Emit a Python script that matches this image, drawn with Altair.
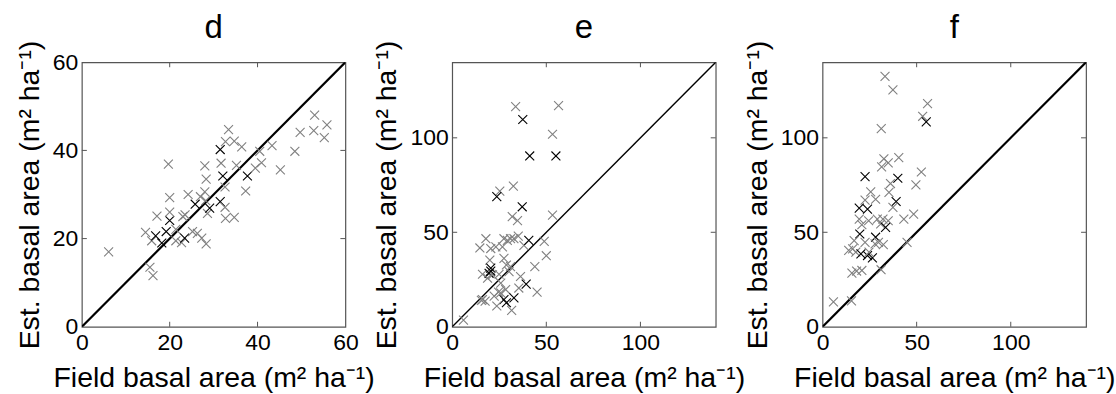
import altair as alt
import pandas as pd

# ---------------- data ----------------
d_field = [6.1, 15.5, 16.2, 14.5, 15.9, 17.1, 16.8, 18.2, 19.2, 20.0, 20.0, 20.0, 19.7, 21.4, 21.4, 22.7,
           23.4, 23.5, 23.0, 24.2, 25.2, 26.3, 25.8, 27.0, 28.0, 28.3, 28.0, 27.3, 28.3, 28.6, 29.1, 28.2,
           31.5, 31.7, 32.1, 31.5, 32.6, 32.7, 32.6, 33.4, 32.7, 34.7, 34.7, 35.2, 36.4, 37.7, 37.3, 39.5,
           40.5, 40.9, 43.3, 45.2, 48.5, 49.7, 53.0, 52.8, 55.2, 55.8]
d_est = [17.0, 13.5, 11.6, 21.4, 19.5, 25.1, 20.6, 19.0, 21.6, 24.1, 26.0, 29.3, 36.9, 22.1, 19.5, 19.1,
         20.1, 25.4, 25.0, 30.0, 21.6, 21.2, 27.8, 29.5, 30.6, 33.5, 36.5, 20.1, 18.8, 25.7, 26.9, 28.6,
         40.2, 37.1, 34.2, 28.4, 27.1, 24.6, 31.7, 44.7, 42.0, 42.1, 24.8, 36.6, 40.8, 34.2, 30.8, 36.0,
         39.8, 37.2, 41.1, 35.6, 39.8, 44.1, 48.0, 44.5, 42.9, 45.8]
d_tone = ["g", "g", "g", "g", "g", "g", "k", "k", "k", "k", "g", "g", "g", "g", "g", "g",
          "k", "g", "g", "g", "g", "g", "k", "g", "g", "g", "g", "g", "g", "g", "k", "g",
          "k", "g", "k", "k", "g", "g", "g", "g", "g", "g", "g", "g", "g", "k", "g", "g",
          "g", "g", "g", "g", "g", "g", "g", "g", "g", "g"]

e_field = [33.7, 56.5, 37.5, 53.3, 41.2, 55.1, 32.5, 25.3, 23.7, 37.2, 53.3, 31.9, 34.7, 17.9, 14.7, 20.5,
           23.2, 27.5, 31.0, 35.1, 32.8, 29.3, 26.7, 38.1, 40.7, 48.9, 50.0, 20.0, 27.5, 28.8, 20.5, 16.1,
           19.6, 21.4, 18.8, 24.9, 30.2, 31.0, 43.9, 25.8, 28.4, 36.3, 39.3, 35.4, 45.1, 24.6, 16.1, 17.5,
           22.3, 25.8, 27.5, 32.8, 23.7, 28.8, 31.6, 6.0, 20.5, 15.5]
e_est = [116.5, 117.0, 109.7, 101.9, 90.4, 90.4, 74.4, 71.8, 68.9, 63.5, 59.1, 58.3, 56.2, 46.6, 41.7, 41.4,
         42.3, 46.6, 46.6, 48.0, 46.6, 45.7, 42.3, 43.1, 45.7, 45.2, 37.6, 35.3, 36.2, 32.7, 31.0, 27.8,
         28.3, 27.5, 25.7, 27.8, 29.2, 31.8, 31.8, 23.1, 19.7, 26.6, 22.6, 20.5, 18.3, 18.3, 14.4, 13.6,
         16.2, 17.9, 14.4, 15.3, 11.0, 12.7, 8.7, 3.5, 29.5, 14.0]
e_tone = ["g", "g", "k", "g", "k", "k", "g", "g", "k", "k", "g", "g", "g", "g", "g", "g",
          "g", "g", "g", "g", "g", "g", "g", "g", "k", "g", "g", "g", "g", "g", "k", "g",
          "k", "g", "g", "g", "g", "g", "g", "g", "g", "g", "k", "g", "g", "g", "g", "g",
          "g", "g", "k", "k", "g", "k", "g", "g", "k", "g"]

f_field = [33.2, 37.4, 55.8, 53.2, 55.1, 31.2, 32.6, 34.9, 31.4, 40.5, 22.6, 52.5, 40.0, 36.1, 49.6, 35.3,
           25.6, 22.6, 28.2, 23.9, 19.5, 39.1, 37.4, 19.5, 24.5, 29.1, 32.1, 34.9, 30.9, 33.5, 43.2, 48.4,
           20.9, 19.8, 16.8, 28.2, 29.7, 32.3, 22.6, 44.9, 16.0, 13.9, 17.7, 20.4, 23.9, 26.5, 24.7, 27.9,
           15.6, 18.1, 20.9, 31.1, 5.8, 15.4]
f_est = [132.5, 125.4, 118.1, 111.4, 108.4, 104.9, 88.9, 86.7, 84.6, 89.5, 79.5, 81.9, 78.6, 75.8, 75.1, 71.1,
         71.4, 67.0, 67.5, 62.3, 62.8, 66.3, 63.2, 57.0, 56.1, 57.0, 57.0, 56.1, 54.4, 52.6, 57.0, 59.6,
         54.0, 49.1, 45.6, 47.4, 44.7, 43.5, 44.7, 44.7, 41.2, 40.4, 39.5, 38.6, 37.7, 36.5, 39.5, 43.9,
         28.4, 29.5, 29.8, 30.2, 13.2, 13.7]
f_tone = ["g", "g", "g", "g", "k", "g", "g", "g", "g", "g", "k", "g", "k", "g", "g", "g",
          "g", "g", "g", "k", "k", "k", "g", "g", "g", "g", "g", "g", "g", "k", "g", "g",
          "g", "k", "g", "k", "g", "g", "g", "g", "g", "g", "g", "k", "k", "k", "g", "g",
          "g", "g", "g", "g", "g", "g"]

panel_titles = ["d", "e", "f"]
panel_max = [60, 140, 140]
panel_ticks = [[0, 20, 40, 60], [0, 50, 100], [0, 50, 100]]
panel_line_width = [2.2, 1.4, 2.2]

x_title = "Field basal area (m² ha⁻¹)"
y_title = "Est. basal area (m² ha⁻¹)"

FONT = "Liberation Sans"
W, H = 264, 265
TICK = 5
FRAME = "#555555"


def make_panel(title, field, est, tone, vmax, ticks, lw):
    pts = pd.DataFrame({"x": field, "y": est, "tone": tone})
    diag = pd.DataFrame({"x": [0, vmax], "y": [0, vmax]})
    inner = [t for t in ticks if 0 < t < vmax]
    tdf_x = pd.DataFrame({"x": inner})
    tdf_y = pd.DataFrame({"y": inner})

    xscale = alt.Scale(domain=[0, vmax], nice=False, zero=False)
    yscale = alt.Scale(domain=[0, vmax], nice=False, zero=False)
    xaxis = alt.Axis(values=ticks, ticks=False, domain=False, grid=False, labelFont=FONT,
                     labelFontSize=23, labelColor="black", labelPadding=5, title=x_title,
                     titleFont=FONT, titleFontSize=28.5, titleFontWeight="normal",
                     titleColor="black", titlePadding=9, labelFlush=False)
    yaxis = alt.Axis(values=ticks, ticks=False, domain=False, grid=False, labelFont=FONT,
                     labelFontSize=23, labelColor="black", labelPadding=4, title=y_title,
                     titleFont=FONT, titleFontSize=28.5, titleFontWeight="normal",
                     titleColor="black", titlePadding=8, labelFlush=False)

    X = alt.X("x:Q", scale=xscale, axis=xaxis)
    Y = alt.Y("y:Q", scale=yscale, axis=yaxis)

    line = alt.Chart(diag).mark_line(color="black", strokeWidth=lw, clip=True).encode(x=X, y=Y)
    points = alt.Chart(pts).mark_point(
        shape="M-1,-1L1,1M-1,1L1,-1", filled=False, size=80, strokeWidth=1.1, opacity=1
    ).encode(
        x=X, y=Y,
        color=alt.Color("tone:N", scale=alt.Scale(domain=["g", "k"], range=["#808080", "#000000"]),
                        legend=None),
    )
    tb = alt.Chart(tdf_x).mark_rule(color=FRAME, strokeWidth=1).encode(
        x=X, y=alt.value(H), y2=alt.value(H - TICK))
    tt = alt.Chart(tdf_x).mark_rule(color=FRAME, strokeWidth=1).encode(
        x=X, y=alt.value(0), y2=alt.value(TICK))
    tl = alt.Chart(tdf_y).mark_rule(color=FRAME, strokeWidth=1).encode(
        y=Y, x=alt.value(0), x2=alt.value(TICK))
    tr = alt.Chart(tdf_y).mark_rule(color=FRAME, strokeWidth=1).encode(
        y=Y, x=alt.value(W - TICK), x2=alt.value(W))

    return alt.layer(tb, tt, tl, tr, line, points).properties(
        width=W, height=H,
        title=alt.TitleParams(title, fontSize=33, fontWeight="normal", font=FONT,
                              color="black", anchor="middle", offset=-5),
    )


panels = []
data_sets = [(d_field, d_est, d_tone), (e_field, e_est, e_tone), (f_field, f_est, f_tone)]
for i, (fx, fy, ft) in enumerate(data_sets):
    panels.append(make_panel(panel_titles[i], fx, fy, ft, panel_max[i], panel_ticks[i],
                             panel_line_width[i]))

chart = alt.hconcat(*panels, spacing=107, bounds="flush").properties(
    padding={"left": 14, "top": 11, "right": 0, "bottom": 0},
    background="white",
).configure_view(stroke=FRAME, strokeWidth=1.2)

chart.save("out.html", embed_options={"renderer": "svg", "actions": False})
